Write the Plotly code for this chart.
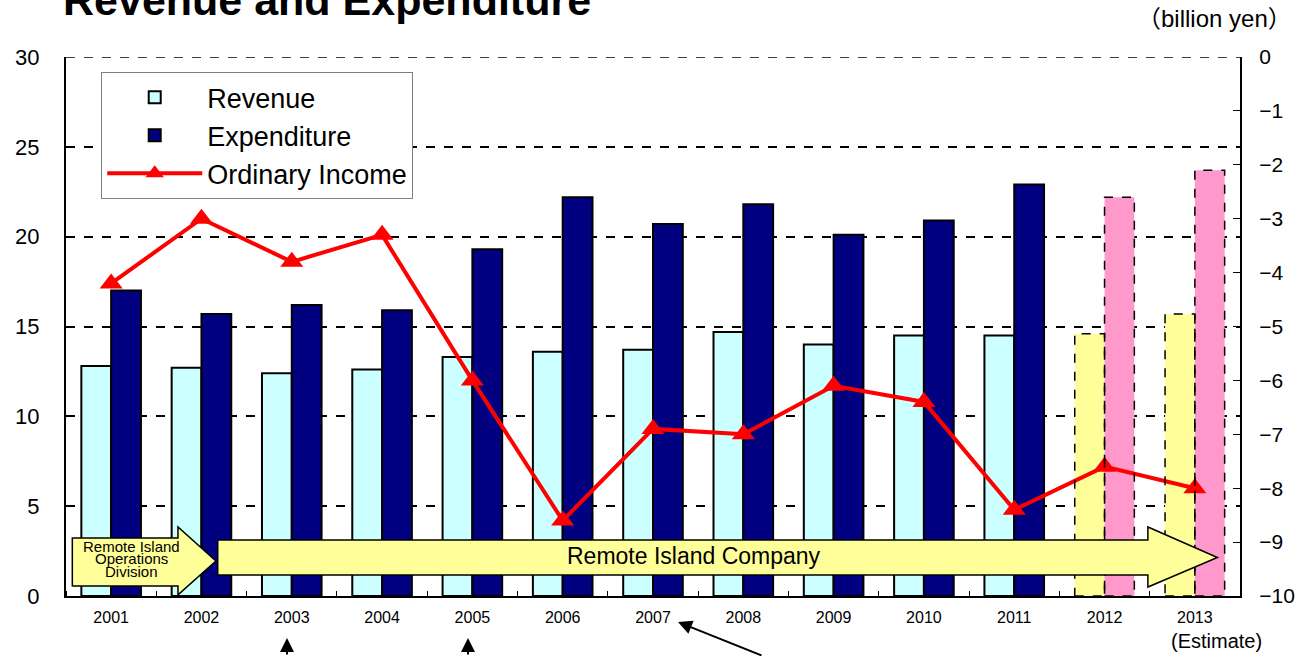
import plotly.graph_objects as go

# data (billion yen)
years = ["2001", "2002", "2003", "2004", "2005", "2006", "2007",
         "2008", "2009", "2010", "2011", "2012", "2013"]
revenue = [12.8, 12.7, 12.4, 12.6, 13.3, 13.6, 13.7, 14.7, 14.0, 14.5, 14.5, 14.6, 15.7]
expenditure = [17.0, 15.7, 16.2, 15.9, 19.3, 22.2, 20.7, 21.8, 20.1, 20.9, 22.9, 22.2, 23.7]
ordinary_income = [-4.2, -3.0, -3.8, -3.3, -6.0, -8.6, -6.9, -7.0, -6.1, -6.4, -8.4, -7.6, -8.0]
estimate_years = ["2012", "2013"]

FONT = "Liberation Sans, Arial, Noto Sans CJK JP, sans-serif"
BAR_W = 0.33

xs = list(range(len(years)))
is_est = [y in estimate_years for y in years]

rev_colors = ["#FFFF99" if e else "#CCFFFF" for e in is_est]
exp_colors = ["#FF99CC" if e else "#000080" for e in is_est]
outline_w = [0 if e else 2 for e in is_est]

fig = go.Figure()
fig.add_trace(go.Bar(
    x=xs, y=revenue, name="Revenue",
    width=BAR_W, offset=-BAR_W,
    marker=dict(color=rev_colors, line=dict(color="black", width=outline_w)),
))
fig.add_trace(go.Bar(
    x=xs, y=expenditure, name="Expenditure",
    width=BAR_W, offset=0,
    marker=dict(color=exp_colors, line=dict(color="black", width=outline_w)),
))
fig.add_trace(go.Scatter(
    x=xs, y=ordinary_income, name="Ordinary Income", yaxis="y2",
    mode="lines+markers",
    line=dict(color="#FF0000", width=4),
    marker=dict(symbol="triangle-up", size=20, color="#FF0000"),
))

shapes = [
    # dashed line along the top of the plot (30 gridline)
    dict(type="line", xref="paper", yref="y", x0=0, x1=1, y0=30, y1=30, layer="below",
         line=dict(color="black", width=1.5, dash="dash")),
]
# dashed outlines for the estimate bars
for i, e in enumerate(is_est):
    if not e:
        continue
    shapes.append(dict(type="rect", xref="x", yref="y", x0=i - BAR_W, x1=i, y0=0, y1=revenue[i],
                       line=dict(color="black", width=1.5, dash="dash")))
    shapes.append(dict(type="rect", xref="x", yref="y", x0=i, x1=i + BAR_W, y0=0, y1=expenditure[i],
                       line=dict(color="black", width=1.5, dash="dash")))

# organisation arrows along the bottom
shapes.append(dict(
    type="path", xref="x", yref="y",
    path="M -0.43,0.56 L -0.43,3.23 L 0.74,3.23 L 0.74,3.84 L 1.16,1.95 L 0.74,0.06 L 0.74,0.56 Z",
    fillcolor="#FFFF99", line=dict(color="black", width=1.5),
))
shapes.append(dict(
    type="path", xref="x", yref="y",
    path="M 1.18,1.17 L 1.18,3.12 L 11.48,3.12 L 11.48,3.84 L 12.25,2.14 L 11.48,0.5 L 11.48,1.17 Z",
    fillcolor="#FFFF99", line=dict(color="black", width=1.5),
))

annotations = [
    dict(text="<b>Revenue and Expenditure</b>", xref="paper", yref="paper", x=-0.004, y=1.105,
         xanchor="left", yanchor="middle", showarrow=False, font=dict(size=43, color="black")),
    dict(text="（billion yen）", xref="paper", yref="paper", x=1.046, y=1.071,
         xanchor="right", yanchor="middle", showarrow=False, font=dict(size=24, color="black")),
    dict(text="(Estimate)", xref="paper", yref="paper", x=0.98, y=-0.083,
         xanchor="center", yanchor="middle", showarrow=False, font=dict(size=20, color="black")),
    dict(text="Remote Island Company", xref="x", yref="y", x=6.45, y=2.2,
         showarrow=False, font=dict(size=23, color="black")),
]
for txt, yy in [("Remote Island", 2.75), ("Operations", 2.07), ("Division", 1.36)]:
    annotations.append(dict(text=txt, xref="x", yref="y", x=0.22, y=yy, showarrow=False,
                            font=dict(size=15, color="black")))

# pointer arrows below the axis
for px_x in [287, 468]:
    annotations.append(dict(text="", xref="paper", yref="paper",
                            x=(px_x - 66) / 1174, y=(596 - 638) / 539,
                            ax=0, ay=40, showarrow=True, arrowhead=2, arrowsize=1.4,
                            arrowwidth=2, arrowcolor="black"))
annotations.append(dict(text="", xref="paper", yref="paper",
                        x=(678 - 66) / 1174, y=(596 - 622) / 539,
                        ax=85, ay=44, showarrow=True, arrowhead=2, arrowsize=1.4,
                        arrowwidth=2, arrowcolor="black"))

fig.update_layout(
    width=1296, height=656,
    margin=dict(l=66, r=56, t=57, b=60, autoexpand=False),
    paper_bgcolor="white", plot_bgcolor="white",
    font=dict(family=FONT, color="black"),
    barmode="overlay",
    showlegend=True,
    legend=dict(x=0.03, y=0.972, xanchor="left", yanchor="top",
                bgcolor="white", bordercolor="#808080", borderwidth=1,
                font=dict(size=27), traceorder="normal", tracegroupgap=0,
                itemwidth=95),
    xaxis=dict(
        range=[-0.5, len(years) - 0.5],
        tickvals=xs, ticktext=years, ticks="",
        tickfont=dict(size=16), ticklabelstandoff=6,
        showline=True, linecolor="black", linewidth=2,
        showgrid=False, zeroline=False, automargin=False,
        minor=dict(tick0=0.5, dtick=1, ticks="inside", ticklen=5, tickcolor="black", showgrid=False),
    ),
    yaxis=dict(
        range=[0, 30], dtick=5,
        tickfont=dict(size=22),
        showline=True, linecolor="black", linewidth=2,
        showgrid=True, gridcolor="black", gridwidth=1.5, griddash="dash",
        zeroline=False, ticks="", ticklabelstandoff=20, automargin=False,
    ),
    yaxis2=dict(
        overlaying="y", side="right",
        range=[-10, 0], dtick=1,
        tickfont=dict(size=21),
        showline=True, linecolor="black", linewidth=2,
        showgrid=False, zeroline=False, automargin=False,
        ticks="inside", ticklen=7, tickcolor="black", ticklabelstandoff=13,
    ),
    shapes=shapes,
    annotations=annotations,
)

# drop the browser's default 8px body margin so the figure sits at the page corner
fig.write_html("out.html", config={"displayModeBar": False},
               post_script="document.body.style.margin='0';")
